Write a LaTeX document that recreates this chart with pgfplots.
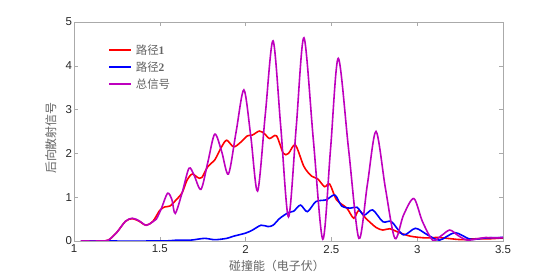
\documentclass[border=0pt]{standalone}
\usepackage{pgfplots}
\pgfplotsset{compat=1.18}
\usepackage{fontspec}
\setmainfont{Liberation Sans}
\newfontfamily\cjk{Noto Sans CJK SC}
\newfontfamily\serifnum{Liberation Serif}
\definecolor{purp}{RGB}{190,0,190}
\definecolor{axgray}{RGB}{170,170,170}
\definecolor{lblgray}{RGB}{100,100,100}
\begin{document}
\begin{tikzpicture}
\begin{axis}[
  scale only axis,
  width=429bp, height=219bp,
  xmin=1, xmax=3.5, ymin=0, ymax=5,
  xtick={1,1.5,2,2.5,3,3.5},
  ytick={0,1,2,3,4,5},
  xticklabels={1,1.5,2,2.5,3,3.5},
  /pgf/number format/assume math mode=true,
  tick align=inside,
  major tick length=4bp,
  axis line style={axgray},
  every tick/.style={axgray},
  tick label style={font=\fontsize{11.5}{13}\selectfont, text=black!85},
  xticklabel style={yshift=-0.5bp},
  yticklabel style={xshift=1.5bp},
  xlabel={\cjk 碰撞能（电子伏）},
  ylabel={\cjk 后向散射信号},
  every axis x label/.style={at={(axis description cs:0.473,-0.114)}, anchor=center, font=\fontsize{12}{14}\selectfont, text=lblgray},
  every axis y label/.style={at={(axis description cs:-0.054,0.47)}, anchor=center, rotate=90, font=\fontsize{12}{14}\selectfont, text=lblgray},
  legend cell align=left,
  legend image code/.code={\draw[#1, line width=1.8bp] (0bp,0.5bp) -- (21.5bp,0.5bp);},
  legend style={draw=none, fill=none, inner sep=0pt, row sep=3.5bp, column sep=0bp,
    at={(axis description cs:0.08,0.90)}, anchor=north west,
    font=\fontsize{11.5}{13}\selectfont, text=lblgray,
    nodes={inner xsep=4bp, inner ysep=1bp, text height=9bp, text depth=2.5bp}},
  clip=true,
]
\addplot[red, line width=1.6pt, smooth, tension=0.5] coordinates {
(1.04,0) (1.15,0) (1.20,0.02) (1.25,0.2) (1.30,0.45) (1.34,0.51) (1.38,0.45) (1.42,0.36)
(1.46,0.45) (1.50,0.70) (1.53,0.78) (1.56,0.80) (1.60,0.96) (1.63,1.1) (1.66,1.4) (1.69,1.53)
(1.72,1.45) (1.745,1.45) (1.78,1.7) (1.82,1.85) (1.86,2.15) (1.89,2.30) (1.93,2.15) (1.97,2.25)
(2.01,2.40) (2.04,2.42) (2.08,2.51) (2.11,2.45) (2.14,2.34) (2.18,2.40) (2.22,2.0) (2.25,2.0)
(2.29,2.19) (2.34,1.70) (2.385,1.48) (2.42,1.42) (2.46,1.24) (2.49,1.30) (2.53,0.94) (2.59,0.75)
(2.63,0.52) (2.66,0.70) (2.70,0.52) (2.76,0.31) (2.80,0.25) (2.84,0.28) (2.89,0.20) (2.96,0.11)
(3.05,0.07) (3.12,0.08) (3.20,0.05) (3.26,0.03) (3.33,0.05) (3.42,0.05) (3.50,0.07)};
\addlegendentry{{\cjk 路径}{\serifnum\bfseries 1}}
\addplot[blue, line width=1.6pt, smooth, tension=0.5] coordinates {
(1.04,0) (1.50,0.0) (1.60,0.02) (1.68,0.02) (1.76,0.06) (1.82,0.03) (1.89,0.06) (1.93,0.11)
(2.00,0.18) (2.04,0.25) (2.09,0.36) (2.13,0.33) (2.16,0.36) (2.20,0.52) (2.25,0.65) (2.28,0.68)
(2.32,0.82) (2.36,0.67) (2.41,0.90) (2.47,0.94) (2.52,1.05) (2.56,0.80) (2.61,0.75) (2.65,0.77)
(2.69,0.59) (2.74,0.71) (2.80,0.44) (2.85,0.44) (2.92,0.14) (2.99,0.29) (3.06,0.14) (3.13,0.02)
(3.22,0.19) (3.31,0.04) (3.40,0.07) (3.50,0.08)};
\addlegendentry{{\cjk 路径}{\serifnum\bfseries 2}}
\addplot[purp, line width=1.6pt, smooth, tension=0.5] coordinates {
(1.04,0) (1.15,0) (1.20,0.02) (1.25,0.2) (1.30,0.45) (1.34,0.52) (1.38,0.46) (1.42,0.36)
(1.46,0.44) (1.48,0.5) (1.51,0.75) (1.545,1.09) (1.57,0.95) (1.59,0.63) (1.63,1.1) (1.67,1.66)
(1.70,1.5) (1.74,1.18) (1.78,1.8) (1.82,2.44) (1.86,2.05) (1.90,1.53) (1.945,2.5) (1.99,3.45)
(2.03,2.4) (2.07,1.14) (2.115,2.9) (2.16,4.57) (2.205,2.6) (2.25,0.55) (2.295,2.6) (2.34,4.64)
(2.395,2.3) (2.45,0.04) (2.495,2.1) (2.54,4.17) (2.60,2.1) (2.66,0.06) (2.71,1.3) (2.76,2.50)
(2.815,1.2) (2.87,0.06) (2.92,0.59) (2.98,0.97) (3.03,0.45) (3.09,0.02) (3.14,0.12) (3.19,0.25)
(3.24,0.12) (3.29,0.02) (3.35,0.05) (3.40,0.08) (3.45,0.07) (3.50,0.08)};
\addlegendentry{{\cjk 总信号}}
\coordinate (ll) at (rel axis cs:0,0);
\coordinate (ur) at (rel axis cs:1,1);
\end{axis}
\path ([shift={(-74bp,-39bp)}]ll) rectangle ([shift={(54bp,22bp)}]ur);
\end{tikzpicture}
\end{document}
